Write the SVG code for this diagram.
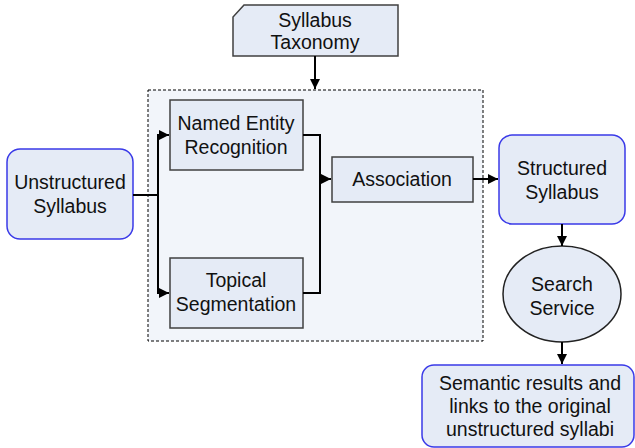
<svg xmlns="http://www.w3.org/2000/svg" width="635" height="448" viewBox="0 0 635 448">
<style>
text{font-family:"Liberation Sans",Arial,sans-serif;font-size:19.5px;fill:#111;text-anchor:middle}
.box{fill:#e5ebf6;stroke:#404040;stroke-width:1.5}
.rbox{fill:#e5ebf6;stroke:#3a3ae8;stroke-width:1.5}
.conn{fill:none;stroke:#000;stroke-width:2}
</style>
<defs>
<marker id="ah" viewBox="0 0 10 10" refX="10" refY="5" markerWidth="5" markerHeight="5" orient="auto" markerUnits="strokeWidth">
<path d="M0,0 L10,5 L0,10 z" fill="#000"/>
</marker>
</defs>
<rect x="0" y="0" width="635" height="448" fill="#fff"/>
<g id="container">
<rect x="148" y="90" width="335" height="251" fill="#f2f5fa" stroke="#000" stroke-width="1" stroke-dasharray="3,2"/>
</g>
<g id="taxonomy">
<path class="box" d="M244,5 L398,5 L398,56 L233,56 L233,17 Z"/>
<text x="315" y="27">Syllabus</text>
<text x="315" y="49">Taxonomy</text>
</g>
<g id="unstructured">
<rect class="rbox" x="7" y="149" width="126" height="90" rx="13"/>
<text x="70" y="189">Unstructured</text>
<text x="70" y="213">Syllabus</text>
</g>
<g id="ner">
<rect class="box" x="170" y="100" width="133" height="70"/>
<text x="236" y="130">Named Entity</text>
<text x="236" y="154">Recognition</text>
</g>
<g id="topical">
<rect class="box" x="170" y="258" width="133" height="70"/>
<text x="236" y="287">Topical</text>
<text x="236" y="311">Segmentation</text>
</g>
<g id="association">
<rect class="box" x="332" y="157" width="141" height="45"/>
<text x="402" y="186">Association</text>
</g>
<g id="structured">
<rect class="rbox" x="499" y="135" width="126" height="89" rx="13"/>
<text x="562" y="175">Structured</text>
<text x="562" y="199">Syllabus</text>
</g>
<g id="search">
<ellipse cx="562" cy="294" rx="59" ry="48" fill="#e5ebf6" stroke="#222" stroke-width="1.5"/>
<text x="562" y="291">Search</text>
<text x="562" y="315">Service</text>
</g>
<g id="results">
<rect class="rbox" x="422" y="365" width="212" height="82" rx="12"/>
<text x="530" y="390">Semantic results and</text>
<text x="530" y="413">links to the original</text>
<text x="530" y="436">unstructured syllabi</text>
</g>
<g id="connectors">
<path class="conn" d="M315,56 L315,89" marker-end="url(#ah)"/>
<path class="conn" d="M133,195 L158,195"/>
<path class="conn" d="M158,195 L158,135 L169,135" marker-end="url(#ah)"/>
<path class="conn" d="M158,195 L158,293 L169,293" marker-end="url(#ah)"/>
<path class="conn" d="M303,135 L320,135 L320,293 L303,293"/>
<path class="conn" d="M320,179 L331,179" marker-end="url(#ah)"/>
<path class="conn" d="M473,179 L498,179" marker-end="url(#ah)"/>
<path class="conn" d="M562,224 L562,246" marker-end="url(#ah)"/>
<path class="conn" d="M562,342 L562,364" marker-end="url(#ah)"/>
</g>
</svg>
